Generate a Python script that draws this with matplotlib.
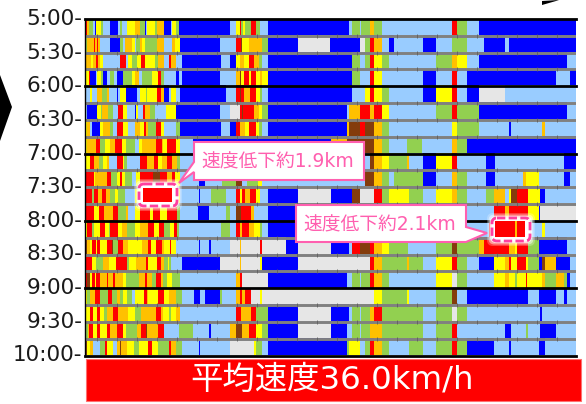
import numpy as np
import matplotlib
matplotlib.use("Agg")
import matplotlib.pyplot as plt
from matplotlib.colors import ListedColormap
from matplotlib.patches import FancyBboxPatch, Polygon, Rectangle
from matplotlib.transforms import ScaledTranslation

plt.rcParams['font.family'] = ['DejaVu Sans', 'Noto Sans CJK JP']

# speed classes along the route
speed_codes = ["R", "B", "O", "Y", "G", "L", "D", "W"]
speed_colors = ["#FF0000", "#843C0C", "#FFC000", "#FFFF00", "#92D050", "#99CCFF", "#0000FF", "#E6E6E6"]

time_labels = ["5:00-", "5:30-", "6:00-", "6:30-", "7:00-", "7:30-", "8:00-", "8:30-", "9:00-", "9:30-", "10:00-"]
title_text = "平均速度36.0km/h"
note_left = "速度低下約1.9km"
note_right = "速度低下約2.1km"

road_length = 1473

# one row per 15 minutes: class + position where that class ends
rows = [
    "R6 O12 G24 L30 D33 Y48 G54 L75 D100 L106 G110 L125 Y150 O165 G180 D183 L186 Y210 G215 O237 D258 L261 Y273 G282 D435 L453 Y465 R468 G474 Y480 G498 R513 G525 L549 D792 L801 G825 L828 G855 O867 G891 L1101 R1116 G1146 L1182 D1473",
    "G6 O27 R30 O36 R39 O45 L75 D105 G114 L120 O141 Y150 L153 G165 O170 Y180 G215 O237 L260 O270 Y285 D405 L453 R468 B471 Y492 O531 G549 D639 W735 D825 W840 G855 R867 O891 L912 D927 L1014 D1053 L1101 G1146 L1197 D1260 L1272 D1473",
    "O18 Y24 O33 R39 O45 Y54 L105 R123 L129 Y141 G156 Y168 R180 Y210 G219 O237 L252 R258 O273 L291 D408 L435 D453 Y465 O477 Y492 R507 O522 G531 L549 D801 G825 L840 G855 R867 Y891 G912 L1053 G1101 O1116 Y1146 L1182 D1446 L1473",
    "Y11 R16 D33 L36 Y48 G54 D66 L75 G87 L96 D114 G141 Y150 O162 L171 G201 Y219 R228 G237 L273 D282 L291 D405 L453 O465 B468 Y477 R492 Y498 R513 Y525 O531 Y549 D801 G825 L855 R867 Y891 L1014 D1053 L1101 R1116 L1146 D1413 L1455 D1473",
    "L15 Y21 L36 O51 G66 O72 L96 D99 L105 Y123 D156 L165 Y183 G186 Y216 R228 O237 D252 L258 Y273 L285 D423 L453 R465 B468 R477 O495 R513 Y525 G531 L549 D801 L840 Y855 R867 Y891 G912 L1014 D1053 Y1101 R1116 L1146 D1182 W1260 L1473",
    "L6 D36 Y48 G51 O69 G84 L99 R114 Y126 L150 D153 Y159 L174 R180 O195 G210 L243 Y273 D405 L435 W465 R471 B474 R507 O522 Y531 G549 D786 L792 O825 R855 O867 R891 Y912 L1053 G1101 R1116 G1182 D1446 L1473",
    "Y6 O15 L21 D45 Y54 O75 G84 L96 R114 Y129 L150 O165 Y177 R183 O189 G213 R228 Y237 L273 G285 D408 L435 D453 R465 O480 Y492 R513 Y522 G531 L549 D786 O792 B825 R840 B867 O891 G912 L1101 Y1116 G1182 L1272 D1278 L1371 O1380 L1473",
    "Y7 O33 R45 G60 Y75 O90 R110 Y123 G150 L162 Y170 O213 R230 O235 Y245 R273 Y285 L323 D738 O786 B867 O891 G912 L966 G1011 L1101 O1116 G1146 D1473",
    "Y14 R27 O42 G54 Y66 O72 L96 R114 Y117 G127 L165 R187 O207 R220 Y230 O245 R260 O275 G285 L855 B867 O891 Y912 G966 O972 L1014 D1053 Y1101 R1116 L1203 D1230 L1437 D1473",
    "R27 Y30 O66 R78 G96 Y105 R110 Y120 G140 L152 Y165 R205 B225 R245 O260 R270 Y285 L342 D360 L411 G453 B471 L485 G520 Y531 L840 B867 O891 G912 L927 G1014 D1053 L1101 O1116 G1146 L1203 D1230 L1314 O1323 Y1362 L1437 D1455 L1473",
    "R21 G27 R39 O51 R63 O75 G90 Y99 G120 L150 Y165 R261 Y285 L342 D345 L378 G423 L453 R465 Y471 R480 O495 R513 Y525 L549 D639 W738 D801 B825 W867 R891 G912 Y972 G1014 L1053 Y1101 O1116 G1146 L1203 G1227 O1260 L1272 Y1278 B1296 R1329 Y1365 D1380 L1473",
    "R27 Y42 R57 O85 R100 G123 O129 L150 Y165 R195 Y205 R225 Y245 R275 G285 L339 D372 L423 G435 L453 B468 R498 O507 L549 D639 W738 D801 L1227 R1260 O1272 R1329 Y1362 D1365 W1473",
    "Y6 R21 G27 Y45 R60 Y72 G75 R100 Y110 O125 G150 Y165 O189 R207 Y222 R237 G255 Y267 R276 G282 L408 G435 L453 R465 O471 R492 O507 Y525 G531 L549 D639 W738 D801 L1212 R1338 L1370 Y1380 L1473",
    "B6 O15 Y21 R33 Y36 R45 Y65 R80 B84 G99 R114 O129 Y171 O189 R198 Y213 R231 O237 Y255 R258 Y273 L342 D345 L372 D378 L435 W465 O468 W525 R531 W603 D639 W738 D792 L801 R825 B855 R867 O891 Y912 G969 L1053 G1101 B1116 G1182 O1197 R1272 O1290 Y1296 R1329 G1362 D1446 L1473",
    "R21 Y33 G54 O72 Y93 R126 G132 Y153 O183 R189 Y216 R228 O237 G249 Y252 G258 L291 D405 W465 O468 W525 Y531 D639 W855 R867 O891 G966 O972 G1014 L1053 Y1101 R1116 G1146 L1182 D1227 Y1260 O1272 R1278 Y1296 R1323 Y1329 G1362 D1371 B1380 O1413 D1455 L1473",
    "R6 B15 Y21 R30 Y33 R45 O66 R69 O84 R90 O114 Y123 G162 O180 R186 O201 G213 R228 O234 G245 Y261 G285 L453 O465 R471 W549 D786 L801 G825 L828 G855 R867 O891 G912 L1053 Y1101 W1116 G1146 L1227 Y1260 O1272 Y1290 G1296 Y1323 R1326 Y1371 O1380 G1413 O1437 G1446 D1455 L1473",
    "Y6 G15 O30 R45 G69 R81 G96 O105 G114 Y126 G141 L150 Y177 R185 O189 Y219 R237 Y252 O273 G291 L327 D345 L360 D405 G411 L453 O465 R471 O480 R498 W525 Y531 W867 Y891 G966 Y972 L1053 G1101 B1116 L1146 D1329 L1362 D1413 L1437 D1446 L1473",
    "Y15 R24 Y36 R45 Y57 G66 O84 R99 O129 Y150 G168 O213 R228 O234 Y252 G258 Y273 O285 L453 R468 O474 O498 R513 G549 D639 W738 D792 L801 G825 L828 G855 O867 R891 G1014 L1053 G1101 W1116 G1146 L1365 D1371 L1473",
    "G9 O12 R24 Y36 R45 Y66 R75 O96 R114 Y123 G156 O168 R183 B186 O219 R237 L282 G324 L372 D378 L435 O453 B471 O492 R513 Y531 G549 D639 W738 D786 L801 G825 L828 G855 O891 G1014 L1053 G1101 R1116 L1260 D1278 L1323 G1329 L1365 D1413 L1473",
    "Y3 B6 Y15 O24 L45 G60 R66 Y84 L96 O105 B108 O126 Y147 G162 Y189 R201 Y219 G252 R258 O273 G291 L342 D345 L435 W507 Y513 G531 L549 D786 G792 Y825 L840 G855 R867 O891 G912 L972 G1014 L1053 G1101 R1116 G1146 D1227 L1272 D1278 L1362 D1380 L1473",
]

# expand each row into one class value per road position
grid = np.zeros((len(rows), road_length), dtype=int)
for r, row in enumerate(rows):
    start = 0
    for part in row.split():
        end = int(part[1:])
        grid[r, start:end] = speed_codes.index(part[0])
        start = end

fig = plt.figure(figsize=(5.86, 4.04), dpi=100)
W, H = 586, 404
top, bottom, left, right = 19.0, 355.5, 85.0, 576.0
ax = fig.add_axes([left / W, 1 - bottom / H, (right - left) / W, (bottom - top) / H])
ax.imshow(grid, cmap=ListedColormap(speed_colors), vmin=-0.5, vmax=7.5, aspect="auto",
          interpolation="nearest", extent=(0, road_length, len(rows), 0))

# separators between rows, every 4th one is the hour line
marks = np.arange(35, road_length, 60)
for r in range(0, len(rows) + 1):
    if r % 4 == 0:
        ax.axhline(r, color="black", lw=2.0, clip_on=False, zorder=3)
    else:
        ax.axhline(r, color="#808080", lw=2.1, zorder=2)
        ax.plot(marks, np.full(len(marks), r), ls="", marker="|", ms=3, mew=0.6, color="#5f5f5f", zorder=2.5)

ax.set_xlim(0, road_length)
ax.set_ylim(len(rows), 0)
ax.set_xticks([])
ax.set_yticks(np.arange(0, len(rows) + 1, 2))
ax.set_yticklabels(time_labels, fontsize=15.5, color="#1a1a1a")
ax.tick_params(axis="y", length=0, pad=2)
lift = ScaledTranslation(0, 1.5 / 72, fig.dpi_scale_trans)
for lab in ax.get_yticklabels():
    lab.set_transform(lab.get_transform() + lift)
for name in ["top", "right", "bottom"]:
    ax.spines[name].set_visible(False)
ax.spines["left"].set_linewidth(1.0)

# everything on top is placed in pixels
over = fig.add_axes([0, 0, 1, 1], facecolor="none")
over.set_xlim(0, W)
over.set_ylim(H, 0)
over.axis("off")

pink = "#FF5FAF"


def hot_spot(x0, y0, x1, y1, ix0, iy0, ix1, iy1):
    # soft white glow, dashed pink frame, red core
    for grow, alpha in [(5, 0.25), (3.5, 0.45), (2, 0.7), (0.5, 1.0)]:
        over.add_patch(FancyBboxPatch((x0 - grow, y0 - grow), x1 - x0 + 2 * grow, y1 - y0 + 2 * grow,
                                      boxstyle="round,pad=0,rounding_size=6", fc="white", ec="none", alpha=alpha, zorder=4))
    over.add_patch(Rectangle((ix0, iy0), ix1 - ix0, iy1 - iy0, fc="#FF0000", ec="none", zorder=5))
    over.add_patch(FancyBboxPatch((x0, y0), x1 - x0, y1 - y0, boxstyle="round,pad=0,rounding_size=5",
                                  fc="none", ec="#FF3FA0", lw=2.0, ls=(0, (3, 1.2)), zorder=6))


hot_spot(139, 184, 177, 206, 143, 188, 172, 202)
hot_spot(492, 218, 530, 241, 495, 221, 525, 237)
over.add_patch(Rectangle((515, 221), 2, 16, fc="#FFC000", ec="none", zorder=5.5))

# callouts
over.add_patch(Polygon([(194, 142), (364, 142), (364, 180), (194, 180), (194, 172), (179, 183), (194, 162)],
                       closed=True, fc="white", ec=pink, lw=1.5, zorder=7))
over.text(278, 162, note_left, color=pink, fontsize=13.5, ha="center", va="center", zorder=8)
over.add_patch(Polygon([(296, 205), (466, 205), (466, 227), (487, 233), (466, 242), (296, 242)],
                       closed=True, fc="white", ec=pink, lw=1.5, zorder=7))
over.text(380, 225, note_right, color=pink, fontsize=13.5, ha="center", va="center", zorder=8)

# average speed bar
over.add_patch(Rectangle((85.5, 359), 495.5, 42, fc="#FF0000", ec="#FF7070", lw=0.8, zorder=3))
over.text(332, 380, title_text, color="white", fontsize=23.3, ha="center", va="center", zorder=4)

# arrows cut off by the slide edge
over.add_patch(Polygon([(0, 75), (12, 107), (0, 141)], closed=True, fc="black", ec="none"))
over.add_patch(Polygon([(542, 5), (542, 1), (559, 0), (556, 1)], closed=True, fc="black", ec="none"))

fig.savefig("out.png", dpi=100)
